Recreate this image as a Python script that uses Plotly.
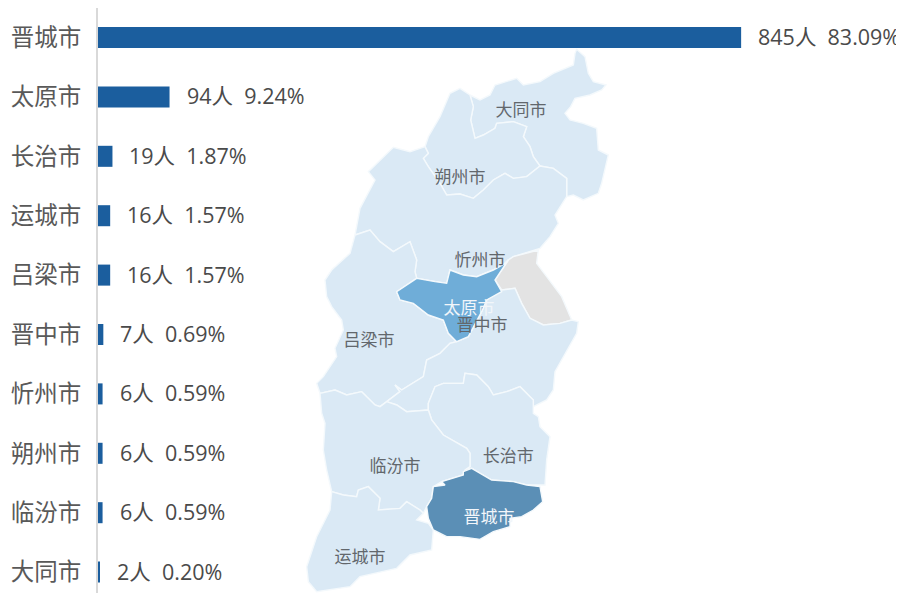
import plotly.graph_objects as go

cities = ["晋城市","太原市","长治市","运城市","吕梁市","晋中市","忻州市","朔州市","临汾市","大同市"]
counts = [845,94,19,16,16,7,6,6,6,2]
shares = ["83.09%","9.24%","1.87%","1.57%","1.57%","0.69%","0.59%","0.59%","0.59%","0.20%"]

# Map outlines, in the map's own units
datong = [(510,165),(540,180),(570,165),(585,135),(650,115),(670,135),(720,125),(760,100),(820,75),(825,40),(830,28),(855,50),(865,100),(880,125),(918,135),(905,150),(870,165),(825,175),(812,200),(795,220),(810,240),(850,250),(890,265),(895,330),(925,345),(915,385),(905,430),(895,460),(850,480),(820,465),(800,470),(800,415),(760,385),(720,378),(700,350),(690,320),(670,290),(680,260),(640,245),(590,250),(585,265),(550,285),(525,295),(512,240),(520,200)]
shuozhou = [(510,165),(520,200),(512,240),(525,295),(550,285),(585,265),(590,250),(640,245),(680,260),(670,290),(690,320),(700,350),(720,378),(680,410),(640,415),(615,400),(580,420),(550,450),(520,475),(480,462),(440,465),(420,430),(385,380),(370,355),(385,340),(375,320),(385,290),(420,230),(450,160),(480,145)]
xinzhou = [(375,320),(385,340),(370,355),(385,380),(420,430),(440,465),(480,462),(520,475),(550,450),(580,420),(615,400),(640,415),(680,410),(720,378),(760,385),(800,415),(800,470),(775,510),(765,525),(775,550),(750,590),(720,625),(640,650),(625,660),(615,670),(580,690),(530,710),(490,705),(450,690),(440,730),(405,725),(350,715),(345,695),(350,660),(330,605),(280,635),(240,605),(210,570),(165,585),(180,505),(225,420),(205,395),(280,322),(330,335)]
lvliang = [(165,585),(210,570),(240,605),(280,635),(330,605),(350,660),(345,695),(350,715),(290,755),(300,780),(340,790),(385,825),(430,840),(445,880),(470,905),(450,910),(420,940),(380,960),(370,1010),(305,1050),(285,1035),(300,1055),(260,1085),(240,1100),(225,1095),(185,1055),(140,1065),(105,1050),(60,1060),(50,1030),(70,1010),(110,950),(105,925),(130,870),(125,840),(95,800),(80,770),(75,720),(95,690),(150,640)]
taiyuan = [(625,660),(585,720),(605,755),(560,780),(545,815),(515,870),(505,890),(470,905),(445,880),(430,840),(385,825),(340,790),(300,780),(290,755),(350,715),(405,725),(440,730),(450,690),(490,705),(530,710),(580,690),(615,670)]
yangquan = [(625,660),(585,720),(605,750),(645,745),(665,790),(690,835),(730,855),(780,850),(815,840),(785,770),(740,710),(710,670),(715,630),(640,650)]
jinzhong = [(605,750),(645,745),(665,790),(690,835),(730,855),(780,850),(815,840),(835,845),(830,880),(800,935),(765,995),(760,1050),(740,1080),(700,1100),(700,1080),(660,1040),(620,1055),(580,1065),(565,1040),(530,1005),(495,1000),(490,1030),(430,1030),(405,1040),(385,1090),(385,1110),(320,1115),(290,1095),(260,1085),(300,1055),(285,1035),(305,1050),(370,1010),(380,960),(420,940),(450,910),(470,905),(505,890),(515,870),(545,815),(560,780)]
changzhi = [(385,1110),(385,1090),(405,1040),(430,1030),(490,1030),(495,1000),(530,1005),(565,1040),(580,1065),(620,1055),(660,1040),(700,1080),(700,1100),(700,1120),(715,1130),(720,1160),(750,1190),(740,1260),(735,1335),(720,1335),(680,1335),(640,1325),(575,1320),(540,1300),(515,1285),(495,1290),(510,1280),(510,1240),(500,1225),(430,1185),(395,1140)]
linfen = [(60,1060),(105,1050),(140,1065),(185,1055),(225,1095),(240,1100),(260,1085),(290,1095),(320,1115),(385,1110),(395,1140),(430,1185),(500,1225),(510,1240),(510,1280),(495,1290),(490,1305),(425,1325),(400,1340),(395,1375),(380,1400),(370,1420),(360,1410),(320,1385),(300,1405),(235,1410),(240,1375),(205,1340),(175,1350),(170,1370),(130,1365),(95,1355),(80,1290),(70,1230),(75,1150),(65,1120)]
jincheng = [(515,1285),(490,1295),(490,1305),(425,1325),(435,1335),(400,1340),(395,1375),(380,1400),(385,1435),(400,1470),(440,1490),(480,1490),(540,1498),(580,1475),(630,1460),(630,1435),(665,1430),(700,1410),(728,1385),(720,1340),(680,1335),(640,1325),(575,1320),(540,1300)]
yuncheng = [(95,1355),(130,1365),(170,1370),(175,1350),(205,1340),(240,1375),(235,1410),(300,1405),(320,1385),(360,1410),(370,1420),(350,1440),(385,1450),(400,1470),(395,1530),(330,1545),(290,1585),(180,1610),(150,1640),(50,1655),(25,1625),(20,1580),(50,1490),(90,1410)]

base = "#dae9f5"
regions = [
    (datong, base), (shuozhou, base), (xinzhou, base), (lvliang, base),
    (yangquan, "#e3e3e3"), (jinzhong, base), (changzhi, base), (linfen, base),
    (yuncheng, base), (taiyuan, "#6fadd8"), (jincheng, "#5b8fb6"),
]

map_names = ["大同市","朔州市","忻州市","吕梁市","临汾市","长治市","运城市","晋中市"]
map_x = [663,480,540,207,285,625,180,546]
map_y = [214,415,664,904,1282,1252,1555,859]
light_names = ["太原市","晋城市"]
light_x = [507,567]
light_y = [808,1435]

fig = go.Figure()
for pts, colour in regions:
    fig.add_trace(go.Scatter(
        x=[p[0] for p in pts] + [pts[0][0]], y=[p[1] for p in pts] + [pts[0][1]],
        mode="lines", fill="toself", fillcolor=colour,
        line=dict(color="#f4f9fc", width=1.4),
        xaxis="x2", yaxis="y2", hoverinfo="skip", showlegend=False))
fig.add_trace(go.Scatter(x=light_x, y=light_y, text=light_names, mode="text",
    textfont=dict(family="Noto Sans CJK SC", size=17, color="#f2f6fa"),
    xaxis="x2", yaxis="y2", hoverinfo="skip", showlegend=False))
fig.add_trace(go.Scatter(x=map_x, y=map_y, text=map_names, mode="text",
    textfont=dict(family="Noto Sans CJK SC", size=17, color="#62676c"),
    xaxis="x2", yaxis="y2", hoverinfo="skip", showlegend=False))

fig.add_trace(go.Bar(x=counts, y=cities, orientation="h", marker=dict(color="#1b5e9e", line=dict(width=0)),
    showlegend=False, xaxis="x", yaxis="y"))

for c, n, s in zip(cities, counts, shares):
    fig.add_annotation(x=n, y=c, xref="x", yref="y", text=f"{n}人  {s}", showarrow=False,
        xanchor="left", xshift=15, yshift=1, font=dict(family="Open Sans, Noto Sans CJK SC", size=21.5, color="#4a4a4a"))

fig.update_layout(
    width=896, height=585, margin=dict(l=0, r=0, t=0, b=0),
    paper_bgcolor="white", plot_bgcolor="rgba(0,0,0,0)", bargap=0.646,
    xaxis=dict(domain=[90/896, 1], range=[0, 1059], visible=False),
    yaxis=dict(domain=[0, 1], range=[9.352, -0.497], type="category", categoryorder="array", automargin=False,
               categoryarray=cities, showline=True, linecolor="#d9d9d9", linewidth=2,
               showgrid=False, zeroline=False, ticks="outside", ticklen=10, tickcolor="rgba(0,0,0,0)",
               tickfont=dict(family="Noto Sans CJK SC", size=23.5, color="#595959")),
    xaxis2=dict(domain=[0, 1], range=[-876, 1812], visible=False, anchor="y2"),
    yaxis2=dict(domain=[0, 1], range=[1659, -96], visible=False, anchor="x2"),
)
fig.write_html("out.html")
